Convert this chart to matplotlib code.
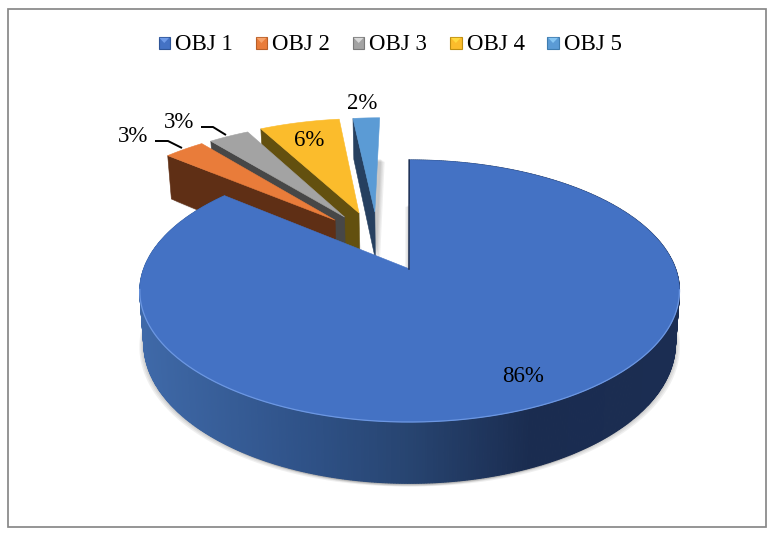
#!/usr/bin/env python3
"""Exploded 3D pie of the OBJ shares, drawn with a small perspective projection."""

import matplotlib

matplotlib.use("Agg")
import matplotlib.pyplot as plt
import numpy as np
from matplotlib.patches import Polygon, Rectangle

CATEGORIES = ["OBJ 1", "OBJ 2", "OBJ 3", "OBJ 4", "OBJ 5"]
SHARES = [86, 3, 3, 6, 2]
LABELS = ["86%", "3%", "3%", "6%", "2%"]

TOP_COLORS = ["#4472C4", "#E97C3A", "#A3A3A3", "#FBBC2C", "#5B9BD5"]
WALL_COLORS = ["#1B2D52", "#5F2F15", "#474747", "#63500F", "#264060"]
LEGEND_LIGHT = ["#6F9BE8", "#F6A36B", "#D8D8D8", "#FFD93F", "#86C5F2"]
LEGEND_DARK = ["#2F5597", "#B85F28", "#7A7A7A", "#BE8E12", "#3F7CAF"]

# offset of each slice on the pie disk, in radii (OBJ 1 stays almost in place)
EXPLODE_X = [-0.005, -0.305, -0.268, -0.211, -0.147]
EXPLODE_Y = [0.0, 0.41, 0.438, 0.475, 0.484]

LABEL_POS = [(523, 376.5), (133, 137), (179, 122), (309, 140), (362, 103.5)]
LEADERS = {
    1: [(155, 141), (168, 141), (182, 148)],
    2: [(201, 127), (213, 127), (226, 135)],
}

CX, CY = 411, 269
RX, RY = 266, 127.3
PERSP = 0.168
DEPTH = 51
BOTTOM_SCALE = 0.985
FONT_SIZE = 16.5

plt.rcParams["font.family"] = ["Liberation Serif", "DejaVu Serif"]


def project(x, y):
    d = 1 + PERSP * np.asarray(y)
    return CX + RX * np.asarray(x) / d, CY - RY * np.asarray(y) / d


def project_low(x, y):
    sx, sy = project(x, y)
    d = 1 + PERSP * np.asarray(y)
    return CX + (sx - CX) * BOTTOM_SCALE, sy + DEPTH / d


def wedge(start, stop, ox, oy):
    """Disk coordinates of a slice, angles clockwise from 12 o'clock."""
    n = max(int(abs(stop - start) / 0.5), 2)
    t = np.radians(np.linspace(start, stop, n))
    x = np.r_[ox, ox + np.sin(t)]
    y = np.r_[oy, oy + np.cos(t)]
    return x, y


def add_poly(ax, xs, ys, z, **kw):
    ax.add_patch(Polygon(np.c_[xs, ys], closed=True, zorder=z, **kw))


def soft_shadow(ax, x, y, dirs, z):
    lx, ly = project_low(x, y)
    for sx in dirs:
        for d in (4.5, 3.2, 2.0, 1.0):
            add_poly(ax, lx + sx * d, ly + d * 0.7, z, facecolor="#555555", alpha=0.09, edgecolor="none")


fig = plt.figure(figsize=(7.8, 5.38), dpi=100)
ax = fig.add_axes([0, 0, 1, 1])
ax.set_xlim(0, 780)
ax.set_ylim(538, 0)
ax.axis("off")

ax.add_patch(Rectangle((8, 8.5), 758, 518, facecolor="white", edgecolor="#888888", linewidth=1.25, zorder=0))

angles = 360 * np.cumsum([0] + SHARES) / sum(SHARES)
shapes = [wedge(angles[i], angles[i + 1], EXPLODE_X[i], EXPLODE_Y[i]) for i in range(len(SHARES))]

# shadows go under everything
for i in (4, 3, 2, 1):
    soft_shadow(ax, *shapes[i], (1,), 1)
soft_shadow(ax, *shapes[0], (-1, 1), 1)

# exploded slices, back to front, with the wall below their left radial edge
z = 2
for i in (4, 3, 2, 1):
    x, y = shapes[i]
    px, py = project(x, y)
    lx, ly = project_low(x, y)
    add_poly(ax, [px[0], px[1], lx[1], lx[0]], [py[0], py[1], ly[1], ly[0]], z,
             facecolor=WALL_COLORS[i], edgecolor=WALL_COLORS[i], linewidth=0.4)
    add_poly(ax, px, py, z + 1, facecolor=TOP_COLORS[i], edgecolor=TOP_COLORS[i], linewidth=0.4)
    z += 2

# big slice: front wall as shaded strips
x, y = shapes[0]
px, py = project(x[1:], y[1:])
lx, ly = project_low(x[1:], y[1:])
shade_t = [0.0, 0.3, 0.5, 0.72, 1.0]
shade_rgb = np.array([matplotlib.colors.to_rgb(c) for c in ["#3F69A8", "#2F5288", "#274470", "#1A2C50", "#1B2D52"]])
for j in range(len(px) - 1):
    t = (0.5 * (px[j] + px[j + 1]) - 141) / 540
    col = [np.interp(t, shade_t, shade_rgb[:, k]) for k in range(3)]
    add_poly(ax, [px[j], px[j + 1], lx[j + 1], lx[j]], [py[j], py[j + 1], ly[j + 1], ly[j]], z,
             facecolor=col, edgecolor=col, linewidth=0.8)

tx, ty = project(x, y)
add_poly(ax, tx, ty, z + 1, facecolor=TOP_COLORS[0], edgecolor=TOP_COLORS[0], linewidth=0.4)

# thin bright rim on the front of the top face, dark edge on the notch
front = py > CY + 20
ax.plot(px[front], py[front], color="#6C97E2", linewidth=0.9, zorder=z + 2)
ax.plot([tx[0] - 0.7, tx[1] - 0.7], [ty[0], ty[1]], color=WALL_COLORS[0], linewidth=1.1, zorder=z + 2)

for i, (lab, (lbx, lby)) in enumerate(zip(LABELS, LABEL_POS)):
    ax.text(lbx, lby, lab, ha="center", va="center", fontsize=FONT_SIZE, color="black", zorder=30)

for pts in LEADERS.values():
    ax.plot(*zip(*pts), color="black", linewidth=1.4, zorder=30, solid_capstyle="butt")

# legend: bevelled squares with text
for i, name in enumerate(CATEGORIES):
    x0 = 158.5 + 97.2 * i
    ax.add_patch(Rectangle((x0, 37), 11.5, 11.5, facecolor=TOP_COLORS[i], edgecolor=LEGEND_DARK[i], linewidth=0.8, zorder=30))
    add_poly(ax, [x0 + 0.8, x0 + 10.7, x0 + 5.75], [37.8, 37.8, 43], 31, facecolor=LEGEND_LIGHT[i], edgecolor="none")
    ax.text(x0 + 16.5, 50, name, ha="left", va="baseline", fontsize=FONT_SIZE, color="black", zorder=30)

fig.savefig("out.png", dpi=100)
plt.close(fig)
